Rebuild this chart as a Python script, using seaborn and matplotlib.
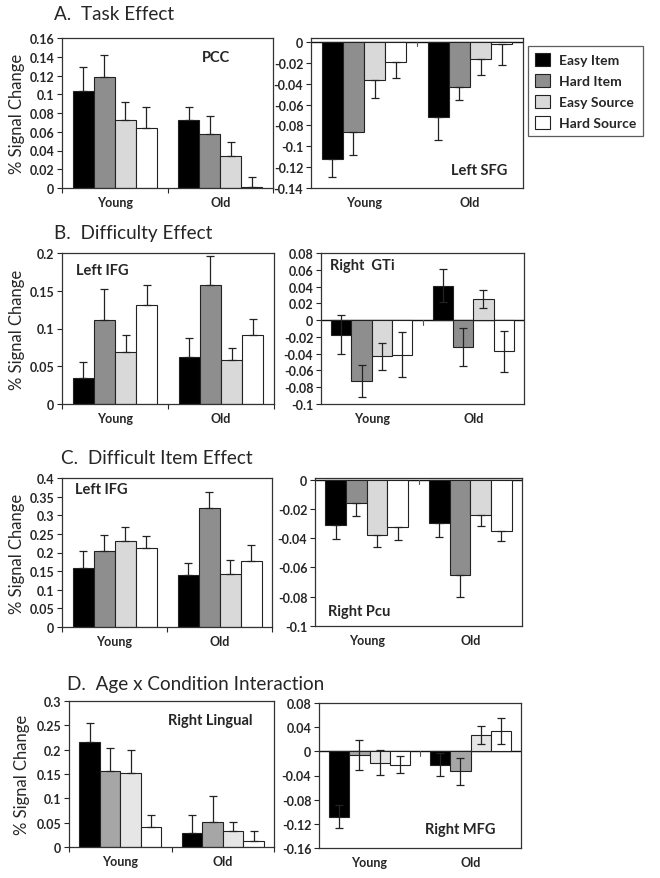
import numpy as np
import pandas as pd
import matplotlib.pyplot as plt
from matplotlib.patches import Patch
import seaborn as sns

# ---- data ----
ages = ["Young", "Old"]
conditions = ["Easy Item", "Hard Item", "Easy Source", "Hard Source"]

# A. Task effect
pcc_mean = [[0.104, 0.118, 0.073, 0.064], [0.073, 0.058, 0.034, 0.001]]
pcc_err = [[0.025, 0.024, 0.019, 0.022], [0.013, 0.019, 0.015, 0.011]]
lsfg_mean = [[-0.112, -0.086, -0.036, -0.019], [-0.072, -0.043, -0.016, -0.002]]
lsfg_err = [[0.017, 0.022, 0.018, 0.016], [0.022, 0.013, 0.016, 0.020]]

# B. Difficulty effect
lifg_b_mean = [[0.035, 0.111, 0.069, 0.131], [0.062, 0.157, 0.058, 0.091]]
lifg_b_err = [[0.020, 0.041, 0.023, 0.027], [0.026, 0.039, 0.016, 0.021]]
rgti_mean = [[-0.0175, -0.073, -0.043, -0.041], [0.041, -0.032, 0.025, -0.037]]
rgti_err = [[0.023, 0.019, 0.016, 0.027], [0.020, 0.0225, 0.011, 0.0245]]

# C. Difficult item effect
lifg_c_mean = [[0.159, 0.203, 0.231, 0.213], [0.140, 0.320, 0.142, 0.177]]
lifg_c_err = [[0.044, 0.045, 0.037, 0.032], [0.033, 0.043, 0.037, 0.042]]
rpcu_mean = [[-0.031, -0.016, -0.038, -0.0325], [-0.0295, -0.0655, -0.024, -0.035]]
rpcu_err = [[0.0094, 0.009, 0.008, 0.009], [0.010, 0.0146, 0.0078, 0.0071]]

# D. Age x condition interaction
rling_mean = [[0.215, 0.157, 0.153, 0.042], [0.028, 0.051, 0.032, 0.012]]
rling_err = [[0.040, 0.046, 0.046, 0.023], [0.037, 0.053, 0.020, 0.021]]
rmfg_mean = [[-0.108, -0.006, -0.0185, -0.022], [-0.0225, -0.033, 0.027, 0.0335]]
rmfg_err = [[0.0195, 0.025, 0.020, 0.0135], [0.019, 0.0227, 0.015, 0.021]]

pal_main = ["#000000", "#8e8e8e", "#d9d9d9", "#ffffff"]
pal_light = ["#000000", "#a6a6a6", "#e6e6e6", "#ffffff"]

sns.set_style("ticks")
plt.rcParams['font.family'] = ['Lato', 'DejaVu Sans']

W, H = 660, 879
fig = plt.figure(figsize=(W / 100, H / 100), dpi=100)


def add_ax(x0, x1, y0, y1):
    return fig.add_axes([x0 / W, 1 - y1 / H, (x1 - x0) / W, (y1 - y0) / H])


def panel(ax, mean, err, ylim, yticks, label, lx, ly, mode, pal, left=False):
    df = pd.DataFrame([(a, c, mean[i][j]) for i, a in enumerate(ages)
                       for j, c in enumerate(conditions)],
                      columns=["age", "cond", "val"])
    sns.barplot(data=df, x="age", y="val", hue="cond", order=ages,
                hue_order=conditions, palette=pal, errorbar=None,
                edgecolor="#222222", linewidth=0.8, width=0.8,
                saturation=1, legend=False, ax=ax)
    # bar centres, left to right: Young (4 conditions), then Old
    bars = sorted([p for p in ax.patches if p.get_width() > 0],
                  key=lambda p: p.get_x())
    flat_m = [mean[i][j] for i in range(2) for j in range(4)]
    flat_e = [err[i][j] for i in range(2) for j in range(4)]
    for bar, v, e in zip(bars, flat_m, flat_e):
        xc = bar.get_x() + bar.get_width() / 2
        if mode == "both":
            yerr = [[e], [e]]
        elif mode == "up":
            yerr = [[0], [e]]
        else:
            yerr = [[e], [0]]
        ax.errorbar(xc, v, yerr=yerr, fmt="none", ecolor="#222222",
                    elinewidth=0.9, capsize=3, capthick=0.9, zorder=1)
    ax.set_xlim(-0.5, 1.5)
    ax.set_ylim(*ylim)
    ax.set_yticks(yticks)
    ax.set_yticklabels([f"{t:g}" for t in yticks], fontsize=9,
                       fontweight="bold")
    ax.set_xticks([0, 1])
    ax.set_xticklabels(ages, fontsize=9, fontweight="bold")
    ax.tick_params(axis="x", length=0, pad=6)
    ax.tick_params(axis="y", length=3.5, width=0.8, direction="out", pad=2)
    for s in ax.spines.values():
        s.set_visible(True)
        s.set_color("#333333")
        s.set_linewidth(0.9)
    if ylim[0] < 0:
        ax.axhline(0, color="#111111", lw=1.0, zorder=0.5)
        d = (ylim[1] - ylim[0]) * 0.03
        ax.plot([0.5, 0.5], [0, -d], color="#555555", lw=0.8)
    else:
        ax.set_xticks([-0.5, 0.5, 1.5], minor=True)
        ax.tick_params(axis="x", which="minor", length=3.5, width=0.8,
                       direction="out")
    ax.set_xlabel("")
    if left:
        ax.set_ylabel("% Signal Change", fontsize=12)
    else:
        ax.set_ylabel("")
    ax.text(lx, ly, label, transform=ax.transAxes, ha="center", va="center",
            fontsize=10.5, fontweight="bold")


def ticks(a, b, s):
    return [round(v, 3) for v in np.arange(a, b + s / 2, s)]


# row A
ax = add_ax(62, 273, 39, 189)
panel(ax, pcc_mean, pcc_err, (0, 0.16), ticks(0, 0.16, 0.02), "PCC",
      0.73, 0.873, "up", pal_main, left=True)
ax.yaxis.set_label_coords(-0.175, 0.5)
ax = add_ax(311, 523, 39, 189)
panel(ax, lsfg_mean, lsfg_err, (-0.14, 0.0038), ticks(-0.14, 0, 0.02),
      "Left SFG", 0.795, 0.118, "down", pal_main)

# row B
ax = add_ax(62, 274, 254, 405)
panel(ax, lifg_b_mean, lifg_b_err, (0, 0.2), ticks(0, 0.2, 0.05), "Left IFG",
      0.19, 0.89, "up", pal_main, left=True)
ax.yaxis.set_label_coords(-0.175, 0.5)
ax = add_ax(321, 524, 254, 405)
panel(ax, rgti_mean, rgti_err, (-0.1, 0.08), ticks(-0.1, 0.08, 0.02),
      "Right  GTi", 0.205, 0.92, "both", pal_main)

# row C
ax = add_ax(62, 272, 479, 628)
panel(ax, lifg_c_mean, lifg_c_err, (0, 0.4), ticks(0, 0.4, 0.05), "Left IFG",
      0.186, 0.926, "up", pal_main, left=True)
ax.yaxis.set_label_coords(-0.175, 0.5)
ax = add_ax(315, 522, 479, 627)
panel(ax, rpcu_mean, rpcu_err, (-0.1, 0.0011), ticks(-0.1, 0, 0.02),
      "Right Pcu", 0.212, 0.098, "down", pal_main)

# row D
ax = add_ax(69, 274, 702, 848)
panel(ax, rling_mean, rling_err, (0, 0.3), ticks(0, 0.3, 0.05),
      "Right Lingual", 0.688, 0.868, "up", pal_light, left=True)
ax.yaxis.set_label_coords(-0.19, 0.5)
ax = add_ax(319, 521, 704, 849)
panel(ax, rmfg_mean, rmfg_err, (-0.16, 0.08), ticks(-0.16, 0.08, 0.04),
      "Right MFG", 0.70, 0.131, "both", pal_light)

# panel titles
for txt, x, y in [("A.  Task Effect", 54, 15), ("B.  Difficulty Effect", 54, 233),
                  ("C.  Difficult Item Effect", 61, 458),
                  ("D.  Age x Condition Interaction", 67, 685)]:
    fig.text(x / W, 1 - y / H, txt, ha="left", va="center", fontsize=13.6)

# legend
handles = [Patch(facecolor=c, edgecolor="#222222", linewidth=0.8)
           for c in pal_main]
leg = fig.legend(handles, conditions, loc="upper left",
                 bbox_to_anchor=(528 / W, 1 - 47 / H), frameon=True,
                 fancybox=False, prop={"weight": "bold", "size": 10},
                 handlelength=1.1, handleheight=1.1, labelspacing=0.55,
                 handletextpad=0.6, borderpad=0.5, borderaxespad=0)
leg.get_frame().set_edgecolor("#333333")
leg.get_frame().set_linewidth(0.9)

fig.savefig("out.png", dpi=100)
